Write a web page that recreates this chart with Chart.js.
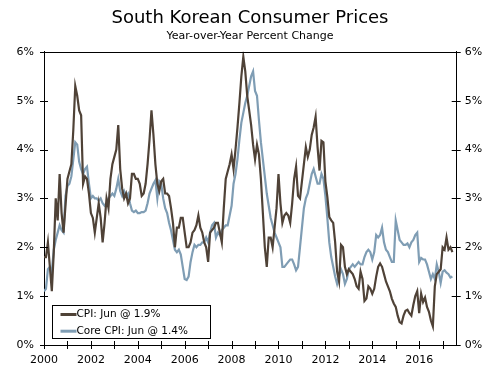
<!DOCTYPE html>
<html>
<head>
<meta charset="utf-8">
<script src="https://cdn.jsdelivr.net/npm/chart.js@4"></script>
<style>
  body { margin: 0; background: #fff; }
  canvas { display: block; }
</style>
</head>
<body>
<canvas id="chart" width="500" height="377"></canvas>
<script>
// monthly year-over-year % change, Jan 2000 .. Jun 2017
const startYear = 2000;

const cpi = [
  1.8, 1.8, 2.1, 1.6, 1.1, 1.9, 3.0, 2.55, 3.5, 2.7, 2.3, 2.85,      // 2000
  3.4, 3.55, 3.7, 4.4, 5.3, 5.1, 4.8, 4.7, 3.3, 3.45, 3.4, 3.1,      // 2001
  2.7, 2.6, 2.3, 2.6, 2.9, 2.6, 2.1, 2.5, 3.0, 2.8, 3.4, 3.7,        // 2002
  3.85, 4.0, 4.5, 3.6, 3.2, 3.0, 3.1, 2.9, 3.0, 3.5, 3.5, 3.4,       // 2003
  3.4, 3.3, 3.05, 3.1, 3.3, 3.7, 4.2, 4.8, 4.3, 3.7, 3.3, 3.15,      // 2004
  3.35, 3.4, 3.1, 3.1, 3.05, 2.8, 2.5, 2.0, 2.4, 2.4, 2.6, 2.6,      // 2005
  2.3, 2.0, 2.0, 2.1, 2.3, 2.35, 2.45, 2.65, 2.4, 2.3, 2.1, 2.0,     // 2006
  1.7, 2.3, 2.35, 2.4, 2.5, 2.5, 2.3, 2.1, 2.8, 3.4, 3.55, 3.7,      // 2007
  3.9, 3.6, 4.0, 4.45, 4.95, 5.5, 5.9, 5.6, 5.1, 4.8, 4.5, 4.1,      // 2008
  3.8, 4.1, 3.9, 3.4, 2.7, 2.0, 1.6, 2.2, 2.2, 2.0, 2.4, 2.8,        // 2009
  3.5, 2.9, 2.5, 2.65, 2.7, 2.65, 2.5, 2.9, 3.4, 3.65, 3.05, 3.0,    // 2010
  3.35, 3.7, 4.05, 3.85, 4.0, 4.3, 4.45, 4.67, 4.05, 3.57, 4.18, 4.15, // 2011
  3.35, 3.03, 2.62, 2.55, 2.5, 2.1, 1.5, 1.3, 2.05, 2.0, 1.6, 1.45,  // 2012
  1.55, 1.5, 1.45, 1.35, 1.2, 1.15, 1.5, 1.35, 0.9, 0.95, 1.2, 1.15, // 2013
  1.05, 1.15, 1.4, 1.6, 1.67, 1.6, 1.45, 1.3, 1.2, 1.1, 0.95, 0.85,  // 2014
  0.78, 0.6, 0.47, 0.44, 0.6, 0.7, 0.72, 0.65, 0.6, 0.82, 1.0, 1.1,  // 2015
  0.65, 1.05, 0.88, 0.97, 0.78, 0.68, 0.5, 0.38, 1.2, 1.45, 1.5, 1.55, // 2016
  2.0, 1.95, 2.2, 1.95, 2.0, 1.9                                      // 2017
];

const core = [
  1.1, 1.15, 1.55, 1.6, 1.5, 1.95, 2.15, 2.3, 2.45, 2.35, 2.3, 3.05, // 2000
  3.25, 3.3, 3.45, 3.8, 4.15, 4.1, 3.75, 3.6, 3.5, 3.6, 3.65, 3.3,   // 2001
  3.0, 3.05, 3.0, 3.0, 2.95, 3.0, 2.9, 2.85, 2.9, 3.0, 3.05, 3.1,    // 2002
  3.05, 3.2, 3.4, 3.15, 3.05, 3.15, 3.05, 3.1, 2.9, 2.75, 2.72, 2.75, // 2003
  2.7, 2.7, 2.72, 2.72, 2.75, 2.9, 3.1, 3.2, 3.3, 3.37, 3.0, 3.35,   // 2004
  3.3, 3.0, 2.8, 2.7, 2.5, 2.35, 2.15, 1.95, 1.9, 1.95, 1.85, 1.6,   // 2005
  1.35, 1.33, 1.4, 1.7, 1.9, 2.05, 2.0, 2.05, 2.05, 2.1, 2.1, 2.2,   // 2006
  2.1, 2.3, 2.45, 2.5, 2.2, 2.3, 2.25, 2.35, 2.4, 2.45, 2.45, 2.65,  // 2007
  2.85, 3.3, 3.5, 3.8, 4.2, 4.55, 4.75, 4.95, 5.1, 5.3, 5.5, 5.6,    // 2008
  5.2, 5.1, 4.6, 4.15, 3.8, 3.45, 3.1, 2.85, 2.6, 2.45, 2.3, 2.2,    // 2009
  2.1, 2.0, 1.6, 1.6, 1.65, 1.7, 1.75, 1.75, 1.65, 1.53, 1.6, 2.0,   // 2010
  2.4, 2.8, 3.0, 3.1, 3.3, 3.5, 3.6, 3.45, 3.3, 3.3, 3.5, 3.4,       // 2011
  3.05, 2.6, 2.1, 1.8, 1.6, 1.4, 1.25, 1.4, 1.55, 1.45, 1.25, 1.35,  // 2012
  1.55, 1.6, 1.65, 1.6, 1.65, 1.7, 1.65, 1.65, 1.8, 1.9, 1.95, 1.9,  // 2013
  1.75, 1.9, 2.25, 2.2, 2.25, 2.4, 2.1, 1.95, 1.9, 1.8, 1.7, 1.7,    // 2014
  2.55, 2.35, 2.15, 2.1, 2.05, 2.05, 2.08, 2.0, 2.1, 2.15, 2.25, 2.3, // 2015
  1.7, 1.78, 1.75, 1.75, 1.65, 1.5, 1.35, 1.45, 1.35, 1.65, 1.5, 1.27, // 2016
  1.5, 1.53, 1.48, 1.45, 1.38, 1.4                                    // 2017
];

const seriesNames = ['CPI: Jun @ 1.9%', 'Core CPI: Jun @ 1.4%'];
const seriesColors = ['#4f4237', '#7f9db4'];
const tickYears = [2000, 2001, 2002, 2003, 2004, 2005, 2006, 2007, 2008,
                   2009, 2010, 2011, 2012, 2013, 2014, 2015, 2016, 2017];
const percentTicks = [0, 1, 2, 3, 4, 5, 6];

const FONT = 'DejaVu Sans';

const toPoints = vals => vals.map((v, i) => ({ x: startYear + i / 12, y: v }));

// frame top line, tick marks crossing the axes, boxed legend in the corner
const chartDecor = {
  id: 'chartDecor',
  afterDatasetsDraw(chart) {
    const { ctx, chartArea: a, scales } = chart;
    ctx.save();
    ctx.strokeStyle = '#000';
    ctx.lineWidth = 1;
    ctx.beginPath();
    ctx.moveTo(a.left, Math.round(a.top) + 0.5);
    ctx.lineTo(a.right, Math.round(a.top) + 0.5);
    tickYears.forEach(yr => {
      const x = Math.round(scales.x.getPixelForValue(yr)) + 0.5;
      ctx.moveTo(x, a.bottom - 4);
      ctx.lineTo(x, a.bottom + 4);
    });
    percentTicks.forEach(p => {
      const y = Math.round(scales.y.getPixelForValue(p)) + 0.5;
      ctx.moveTo(a.left - 4, y);
      ctx.lineTo(a.left + 4, y);
      ctx.moveTo(a.right - 5, y);
      ctx.lineTo(a.right + 4, y);
    });
    ctx.stroke();

    // legend
    const bx = Math.round(a.left + 8) + 0.5;
    const bw = 158, bh = 33;
    const by = Math.round(a.bottom - 7 - bh) + 0.5;
    ctx.fillStyle = '#fff';
    ctx.fillRect(bx, by, bw, bh);
    ctx.strokeRect(bx, by, bw, bh);
    ctx.font = '10.5px "' + FONT + '"';
    ctx.textBaseline = 'middle';
    chart.data.datasets.forEach((ds, i) => {
      const y = by + 9 + i * 16.7;
      ctx.strokeStyle = ds.borderColor;
      ctx.lineWidth = 3;
      ctx.beginPath();
      ctx.moveTo(bx + 8, y);
      ctx.lineTo(bx + 24, y);
      ctx.stroke();
      ctx.fillStyle = '#000';
      ctx.fillText(ds.label, bx + 24, y);
    });
    ctx.restore();
  }
};

const yAxis = (pos) => ({
  type: 'linear',
  position: pos,
  min: 0,
  max: 6,
  grid: { display: false, drawTicks: false },
  border: { display: true, color: '#000', width: 1 },
  ticks: {
    stepSize: 1,
    padding: pos === 'left' ? 10 : 8,
    color: '#000',
    font: { family: FONT, size: 11 },
    callback: v => v + '%'
  },
  afterFit: s => { s.width = pos === 'left' ? 44 : 43.3; }
});

new Chart(document.getElementById('chart'), {
  type: 'line',
  data: {
    datasets: [
      { label: seriesNames[0], data: toPoints(cpi), borderColor: seriesColors[0],
        borderWidth: 2.2, pointRadius: 0, tension: 0 },
      { label: seriesNames[1], data: toPoints(core), borderColor: seriesColors[1],
        borderWidth: 2.2, pointRadius: 0, tension: 0 }
    ]
  },
  options: {
    responsive: false,
    animation: false,
    devicePixelRatio: 1,
    layout: { padding: 0 },
    scales: {
      x: {
        type: 'linear',
        min: 2000,
        max: 2017.6,
        grid: { display: false, drawTicks: false },
        border: { display: true, color: '#000', width: 1 },
        ticks: {
          stepSize: 1,
          autoSkip: false,
          maxRotation: 0,
          padding: 9,
          color: '#000',
          font: { family: FONT, size: 11 },
          callback: v => (v % 2 === 0 ? String(v) : '')
        },
        afterFit: s => { s.height = 32; }
      },
      y: yAxis('left'),
      y2: yAxis('right')
    },
    plugins: {
      legend: { display: false },
      tooltip: { enabled: false },
      title: {
        display: true,
        text: 'South Korean Consumer Prices',
        color: '#000',
        font: { family: FONT, size: 18, weight: 'normal' },
        padding: { top: 8, bottom: 0 }
      },
      subtitle: {
        display: true,
        text: 'Year-over-Year Percent Change',
        color: '#000',
        font: { family: FONT, size: 11 },
        padding: { top: 0, bottom: 9 }
      }
    }
  },
  plugins: [chartDecor]
});
</script>
</body>
</html>
